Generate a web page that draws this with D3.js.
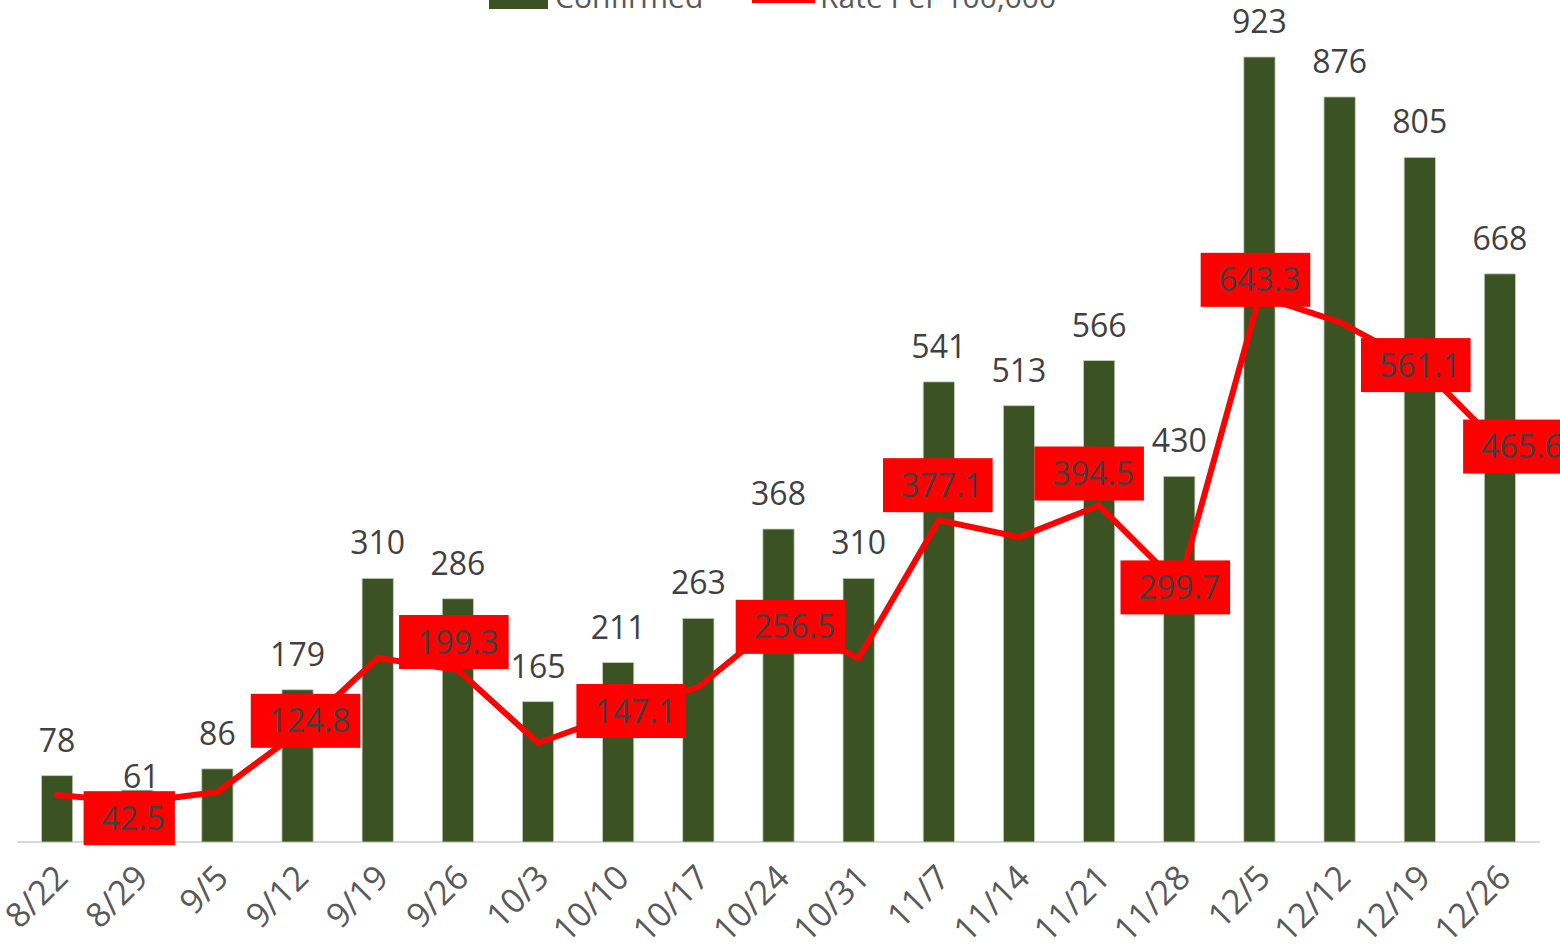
<!DOCTYPE html>
<html lang="en">
  <head>
    <meta charset="utf-8"/>
    <script src="https://d3js.org/d3.v7.min.js"></script>
    <title>Confirmed and Rate Per 100,000</title>
    <style>
      body { margin: 0; background: #fff; }
      text { font-family: "Open Sans", "DejaVu Sans", sans-serif; }
    </style>
  </head>
  <body>
    <svg id="chart"></svg>

  <script>
  const width = 1560, height = 952;

  // weekly dates
  const dates = ["8/22", "8/29", "9/5", "9/12", "9/19", "9/26", "10/3", "10/10", "10/17", "10/24",
    "10/31", "11/7", "11/14", "11/21", "11/28", "12/5", "12/12", "12/19", "12/26"];

  // confirmed cases per week
  const confirmed = [78, 61, 86, 179, 310, 286, 165, 211, 263, 368,
    310, 541, 513, 566, 430, 923, 876, 805, 668];

  // rate per 100,000 (unlabelled points estimated from the line)
  const rate = [51.0, 42.5, 54.6, 124.8, 213.6, 199.3, 112.7, 147.1, 179.2, 256.5,
    213.6, 377.1, 357.0, 394.5, 299.7, 643.3, 612.0, 561.1, 465.6];

  // which rate points carry a label
  const rateLabelled = ["8/29", "9/12", "9/26", "10/10", "10/24", "11/7", "11/21", "11/28", "12/5", "12/19", "12/26"];

  const seriesNames = ["Confirmed", "Rate Per 100,000"];

  // label placement tweaks (layout only)
  const rateLabelDy = {"8/29": 16, "9/12": -12, "9/26": -28, "10/10": -3, "10/24": 5,
    "11/7": -35, "11/21": -32, "11/28": 2, "12/5": -16, "12/19": 0, "12/26": 1};
  const rateLabelDx = {"8/29": -4, "9/12": 12, "10/10": 17, "10/24": 16, "11/7": 3, "11/21": -6, "12/26": 22};
  const barLabelDy = {"8/29": 22};
  const barLabelDx = {"8/29": 4};

  const green = "#3b5323", red = "#ff0000";

  const svg = d3.select("#chart")
    .attr("width", width)
    .attr("height", height);

  const x = d3.scaleBand()
    .domain(dates)
    .range([17, 1540])
    .paddingInner(0.61)
    .paddingOuter(0.305);

  const y = d3.scaleLinear().domain([0, 1000]).range([842, -8.5]);
  const y2 = d3.scaleLinear().domain([0, 1000]).range([838, -4.8]);

  const cx = function(d){ return x(d) + x.bandwidth() / 2; };

  // axis line
  svg.append("line")
    .attr("x1", 17).attr("x2", 1540)
    .attr("y1", y(0)).attr("y2", y(0))
    .attr("stroke", "#d9d9d9")
    .attr("stroke-width", 2);

  // bars
  svg.selectAll("rect.bar")
    .data(dates)
    .enter()
    .append("rect")
      .attr("class", "bar")
      .attr("x", function(d){ return x(d); })
      .attr("y", function(d, i){ return y(confirmed[i]); })
      .attr("width", x.bandwidth())
      .attr("height", function(d, i){ return y(0) - y(confirmed[i]); })
      .attr("fill", green)
      .attr("stroke", "#c9cfc2")
      .attr("stroke-width", 0.8);

  // bar value labels
  svg.selectAll("text.barlab")
    .data(dates)
    .enter()
    .append("text")
      .attr("class", "barlab")
      .attr("x", function(d){ return cx(d) + (barLabelDx[d] || 0); })
      .attr("y", function(d, i){ return y(confirmed[i]) - 24 + (barLabelDy[d] || 0); })
      .attr("text-anchor", "middle")
      .attr("font-size", "32px")
      .attr("fill", "#404040")
      .text(function(d, i){ return confirmed[i]; });

  // rate line
  const line = d3.line()
    .x(function(d){ return cx(d); })
    .y(function(d, i){ return y2(rate[i]); });

  svg.append("path")
    .datum(dates)
    .attr("d", line)
    .attr("fill", "none")
    .attr("stroke", red)
    .attr("stroke-width", 6)
    .attr("stroke-linejoin", "round")
    .attr("stroke-linecap", "round");

  // rate labels
  const labs = svg.selectAll("g.ratelab")
    .data(rateLabelled)
    .enter()
    .append("g")
      .attr("class", "ratelab")
      .attr("transform", function(d){
        const i = dates.indexOf(d);
        return "translate(" + (cx(d) + (rateLabelDx[d] || 0)) + "," + (y2(rate[i]) + rateLabelDy[d]) + ")";
      });

  labs.append("rect").attr("fill", red);
  labs.append("text")
    .attr("text-anchor", "middle")
    .attr("dy", "0.36em")
    .attr("font-size", "32px")
    .attr("fill", "#404040")
    .text(function(d){ return d3.format(".1f")(rate[dates.indexOf(d)]); });

  labs.each(function(){
    const g = d3.select(this);
    const w = g.select("text").node().getComputedTextLength();
    g.select("rect")
      .attr("x", -w / 2 - 18)
      .attr("y", -27)
      .attr("width", w + 28)
      .attr("height", 54);
  });

  // x tick labels
  svg.selectAll("text.tick")
    .data(dates)
    .enter()
    .append("text")
      .attr("class", "tick")
      .attr("transform", function(d){ return "translate(" + (cx(d) - 4) + ",863) rotate(-45)"; })
      .attr("text-anchor", "end")
      .attr("dy", "0.7em")
      .attr("font-size", "34px")
      .attr("fill", "#595959")
      .text(function(d){ return d; });

  // legend (cut off at the top edge)
  const legend = svg.append("g");
  legend.append("rect")
    .attr("x", 489).attr("y", -14)
    .attr("width", 59).attr("height", 23)
    .attr("fill", green);
  legend.append("text")
    .attr("x", 555).attr("y", 8)
    .attr("font-size", "30px")
    .attr("fill", "#595959")
    .text(seriesNames[0]);
  legend.append("line")
    .attr("x1", 752).attr("x2", 815)
    .attr("y1", 0).attr("y2", 0)
    .attr("stroke", red)
    .attr("stroke-width", 6);
  legend.append("text")
    .attr("x", 820).attr("y", 8)
    .attr("font-size", "30px")
    .attr("fill", "#595959")
    .text(seriesNames[1]);
  </script>
  </body>
</html>
